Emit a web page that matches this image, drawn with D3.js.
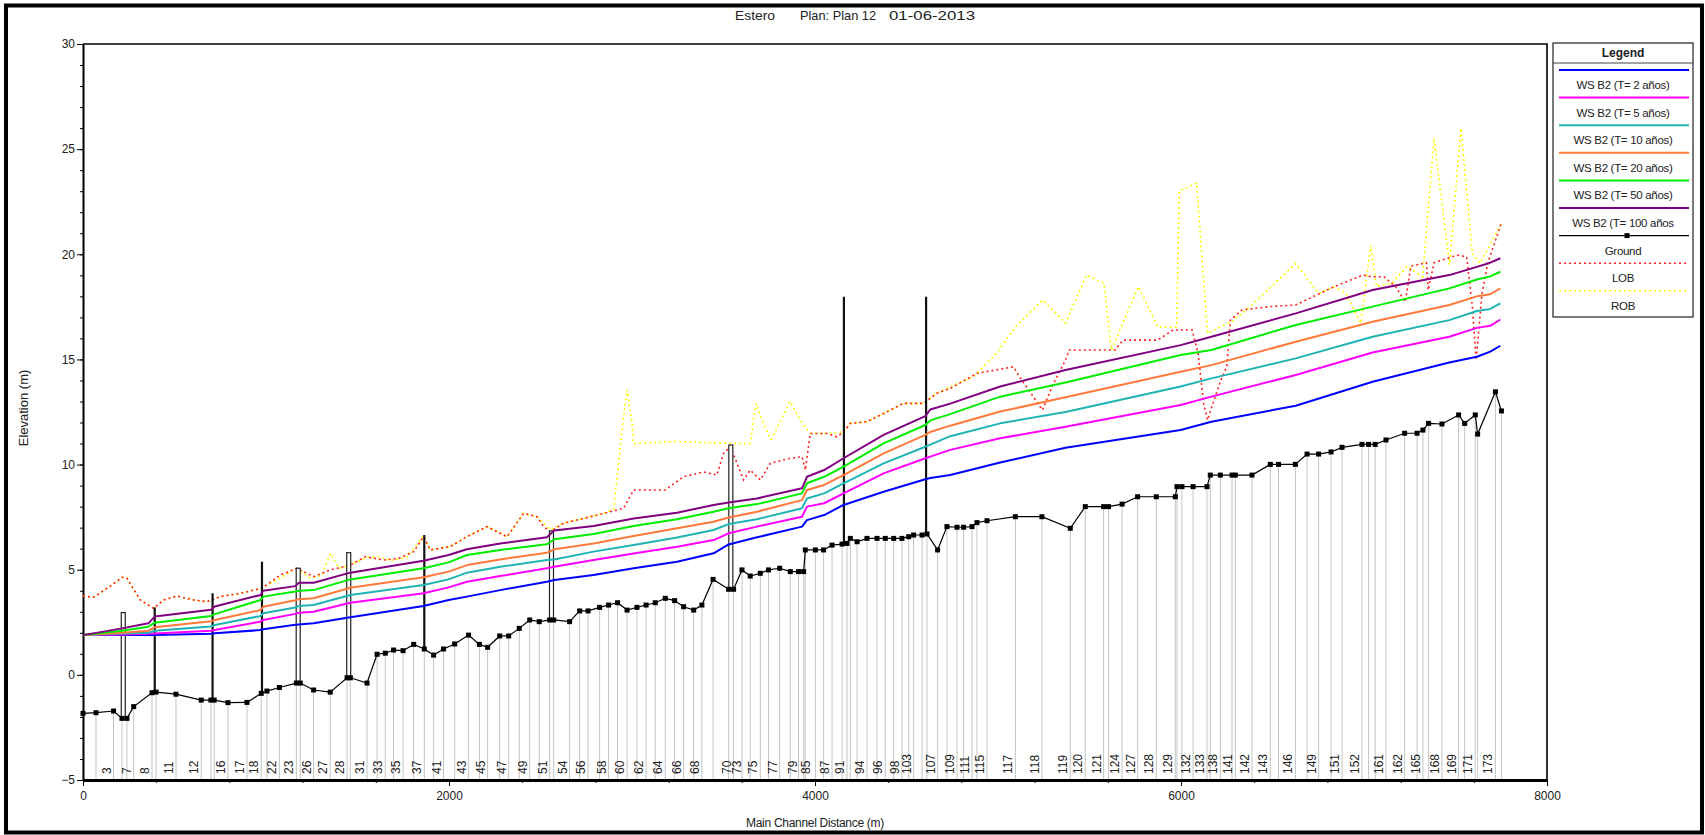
<!DOCTYPE html>
<html>
<head>
<meta charset="utf-8">
<script src="https://cdn.jsdelivr.net/npm/d3@7"></script>
<style>
  body { margin: 0; background: #fff; }
  svg text { font-family: "Liberation Sans", Arial, sans-serif; }
</style>
</head>
<body>
<svg id="chart" width="1705" height="835"></svg>
<script>
// ---- data ----
const seriesNames = ["WS B2 (T= 2 años)", "WS B2 (T= 5 años)", "WS B2 (T= 10 años)", "WS B2 (T= 20 años)",
    "WS B2 (T= 50 años)", "WS B2 (T= 100 años", "Ground", "LOB", "ROB"];

const wsDist = [0, 213, 357, 392, 700, 720, 970, 985, 1160, 1180, 1260, 1461, 1861, 1998, 2098, 2280, 2535, 2575,
    2790, 3009, 3246, 3446, 3528, 3683, 3929, 3956, 4050, 4156, 4375, 4603, 4630, 4739, 5012, 5369, 5998, 6166,
    6627, 7047, 7466, 7617, 7690, 7745];
const ws2 = [1.89, 1.89, 1.89, 1.89, 1.96, 1.98, 2.13, 2.17, 2.38, 2.40, 2.45, 2.74, 3.27, 3.56, 3.72, 4.03, 4.43, 4.51,
    4.75, 5.07, 5.38, 5.78, 6.20, 6.54, 7.05, 7.36, 7.60, 8.08, 8.71, 9.30, 9.36, 9.50, 10.10, 10.80, 11.64, 12.04,
    12.80, 13.94, 14.85, 15.13, 15.37, 15.65];
const ws5 = [1.89, 1.92, 1.95, 1.97, 2.10, 2.13, 2.53, 2.61, 2.90, 2.95, 3.00, 3.43, 3.88, 4.16, 4.43, 4.70, 5.07, 5.14,
    5.46, 5.77, 6.09, 6.41, 6.73, 7.05, 7.52, 8.00, 8.16, 8.63, 9.58, 10.30, 10.38, 10.70, 11.25, 11.80, 12.83, 13.23,
    14.26, 15.33, 16.08, 16.50, 16.60, 16.90];
const ws10 = [1.89, 1.97, 2.00, 2.10, 2.30, 2.37, 2.80, 2.93, 3.20, 3.28, 3.32, 3.80, 4.27, 4.54, 4.86, 5.14, 5.46, 5.49,
    5.86, 6.17, 6.53, 6.89, 7.17, 7.40, 7.92, 8.39, 8.63, 9.11, 10.06, 10.85, 10.95, 11.35, 11.96, 12.50, 13.71, 14.10,
    15.05, 16.08, 16.87, 17.30, 17.40, 17.67];
const ws20 = [1.89, 2.00, 2.10, 2.26, 2.55, 2.61, 3.08, 3.24, 3.55, 3.60, 3.64, 4.14, 4.64, 4.91, 5.22, 5.49, 5.81, 5.97,
    6.25, 6.60, 6.97, 7.28, 7.48, 7.76, 8.31, 8.79, 9.03, 9.50, 10.53, 11.41, 11.55, 11.85, 12.52, 13.20, 14.41, 14.73,
    15.84, 16.79, 17.59, 18.00, 18.10, 18.38];
const ws50 = [1.89, 2.10, 2.29, 2.48, 2.80, 2.89, 3.56, 3.72, 3.96, 4.00, 4.03, 4.54, 5.07, 5.35, 5.70, 5.94, 6.21, 6.45,
    6.70, 7.08, 7.40, 7.76, 7.92, 8.12, 8.63, 9.11, 9.42, 9.90, 11.01, 11.88, 12.10, 12.40, 13.23, 13.90, 15.21, 15.45,
    16.64, 17.51, 18.38, 18.80, 18.95, 19.17];
const ws100 = [1.89, 2.21, 2.45, 2.77, 3.10, 3.25, 3.80, 4.00, 4.22, 4.38, 4.38, 4.86, 5.43, 5.70, 5.97, 6.25, 6.54, 6.86,
    7.08, 7.44, 7.71, 8.08, 8.20, 8.39, 8.87, 9.42, 9.74, 10.30, 11.41, 12.30, 12.62, 12.90, 13.71, 14.50, 15.68, 16.08,
    17.19, 18.30, 19.01, 19.40, 19.60, 19.81];

const groundDist = [0, 71, 167, 213, 240, 277, 377, 399, 508, 646, 699, 717, 792, 896, 974, 1005, 1073, 1166, 1187,
    1260, 1351, 1443, 1461, 1552, 1607, 1652, 1697, 1749, 1807, 1865, 1916, 1970, 2031, 2107, 2166, 2211, 2277, 2326,
    2384, 2441, 2493, 2550, 2572, 2659, 2714, 2760, 2823, 2872, 2921, 2973, 3027, 3077, 3127, 3182, 3233, 3282, 3337,
    3382, 3443, 3528, 3555, 3601, 3646, 3701, 3746, 3807, 3865, 3910, 3938, 3947, 4002, 4047, 4093, 4148, 4175, 4193,
    4230, 4284, 4339, 4384, 4430, 4475, 4512, 4539, 4585, 4612, 4670, 4721, 4776, 4812, 4858, 4885, 4940, 5095, 5240,
    5395, 5477, 5577, 5604, 5678, 5763, 5865, 5969, 5978, 6005, 6066, 6142, 6160, 6215, 6279, 6297, 6388, 6488, 6533,
    6625, 6689, 6752, 6820, 6880, 6989, 7025, 7061, 7120, 7222, 7290, 7322, 7353, 7426, 7517, 7550, 7608, 7621, 7718,
    7751];
const groundElev = [-1.83, -1.80, -1.72, -2.07, -2.07, -1.51, -0.85, -0.82, -0.92, -1.20, -1.20, -1.20, -1.32, -1.31,
    -0.88, -0.77, -0.60, -0.39, -0.39, -0.72, -0.82, -0.14, -0.14, -0.39, 0.98, 1.03, 1.18, 1.15, 1.45, 1.23, 0.94, 1.23,
    1.47, 1.89, 1.45, 1.31, 1.85, 1.85, 2.21, 2.61, 2.53, 2.61, 2.61, 2.53, 3.04, 3.04, 3.21, 3.32, 3.43, 3.08, 3.21,
    3.32, 3.43, 3.64, 3.53, 3.24, 3.08, 3.32, 4.54, 4.07, 4.07, 4.99, 4.70, 4.83, 4.99, 5.07, 4.91, 4.91, 4.91, 5.94,
    5.94, 5.94, 6.17, 6.22, 6.25, 6.49, 6.33, 6.49, 6.49, 6.49, 6.49, 6.49, 6.57, 6.65, 6.65, 6.70, 5.94, 7.05, 7.02,
    7.02, 7.05, 7.24, 7.33, 7.52, 7.52, 6.97, 8.00, 8.00, 8.00, 8.12, 8.47, 8.47, 8.47, 8.95, 8.95, 8.95, 8.95, 9.50,
    9.50, 9.50, 9.50, 9.50, 10.01, 10.01, 10.01, 10.50, 10.50, 10.60, 10.82, 10.96, 10.96, 10.96, 11.17, 11.49, 11.49,
    11.64, 11.96, 11.93, 12.36, 11.96, 12.36, 11.45, 13.46, 12.55];

const lobDist = [0, 58, 149, 213, 240, 313, 386, 440, 514, 604, 678, 750, 860, 978, 1079, 1169, 1260, 1351, 1461, 1543,
    1643, 1725, 1807, 1861, 1898, 2007, 2098, 2208, 2317, 2408, 2481, 2517, 2554, 2626, 2736, 2845, 2954, 3009, 3182,
    3282, 3391, 3464, 3500, 3537, 3574, 3610, 3646, 3701, 3756, 3865, 3929, 3947, 3974, 4066, 4120, 4156, 4193, 4284,
    4375, 4484, 4593, 4666, 4739, 4886, 5085, 5117, 5180, 5243, 5295, 5369, 5390, 5641, 5683, 5872, 5956, 6061, 6093,
    6124, 6145, 6187, 6218, 6250, 6270, 6333, 6480, 6627, 6837, 6994, 7047, 7110, 7173, 7225, 7257, 7341, 7351, 7383,
    7508, 7561, 7592, 7613, 7645, 7676, 7750];
const lobElev = [3.75, 3.69, 4.22, 4.64, 4.60, 3.56, 3.16, 3.56, 3.75, 3.56, 3.48, 3.72, 3.88, 4.12, 4.75, 5.07, 4.67,
    4.99, 5.22, 5.62, 5.46, 5.54, 5.86, 6.57, 5.94, 6.10, 6.57, 7.05, 6.57, 7.68, 7.52, 7.05, 6.81, 7.21, 7.44, 7.68,
    7.92, 8.79, 8.79, 9.42, 9.65, 9.50, 10.53, 10.85, 10.06, 9.27, 9.74, 9.27, 10.06, 10.30, 10.37, 9.74, 11.48, 11.48,
    11.32, 11.55, 11.96, 12.04, 12.43, 12.91, 12.91, 13.39, 13.62, 14.34, 14.65, 14.18, 13.39, 12.59, 13.70, 14.97,
    15.45, 15.45, 15.92, 15.92, 16.40, 16.40, 15.29, 12.91, 12.12, 13.23, 14.02, 14.65, 16.87, 17.35, 17.51, 17.59,
    18.46, 19.01, 18.93, 18.93, 18.46, 17.74, 19.44, 19.60, 18.30, 19.60, 19.96, 19.88, 17.51, 14.97, 18.14, 19.57,
    21.47];

const robDist = [0, 58, 149, 213, 240, 313, 386, 440, 514, 604, 678, 750, 860, 978, 1060, 1151, 1187, 1242, 1306, 1351,
    1400, 1461, 1552, 1625, 1679, 1770, 1861, 1898, 2007, 2098, 2208, 2317, 2408, 2481, 2554, 2626, 2736, 2845, 2900,
    2945, 2973, 3000, 3009, 3250, 3550, 3646, 3678, 3720, 3760, 3865, 3920, 3974, 4066, 4156, 4193, 4284, 4375, 4484,
    4593, 4666, 4739, 4865, 4991, 5096, 5243, 5369, 5484, 5579, 5620, 5767, 5872, 5977, 5990, 6085, 6145, 6291, 6417,
    6627, 6753, 6837, 6900, 6983, 7036, 7068, 7153, 7236, 7320, 7383, 7467, 7530, 7592, 7635, 7750];
const robElev = [3.75, 3.69, 4.22, 4.64, 4.60, 3.56, 3.16, 3.56, 3.75, 3.56, 3.48, 3.72, 3.88, 4.12, 4.51, 4.99, 4.95,
    4.59, 4.75, 5.78, 5.07, 5.22, 5.59, 5.62, 5.43, 5.59, 6.60, 5.94, 6.10, 6.57, 7.05, 6.57, 7.68, 7.52, 6.90, 7.21,
    7.44, 7.68, 7.90, 11.60, 13.55, 12.00, 11.00, 11.10, 11.00, 11.00, 12.90, 11.90, 11.20, 13.00, 12.10, 11.48, 11.48,
    11.55, 11.96, 12.04, 12.43, 12.91, 12.91, 13.39, 13.70, 14.18, 15.29, 16.55, 17.83, 16.72, 19.01, 18.62, 15.45,
    18.46, 16.55, 16.55, 23.00, 23.40, 16.24, 16.87, 17.83, 19.57, 18.14, 18.46, 18.14, 16.72, 20.43, 18.46, 18.62,
    19.44, 18.93, 25.50, 19.50, 26.00, 20.04, 19.57, 21.47];

// bridges / culverts: station, deck top, invert
const bridgeDist = [220, 392, 708, 978, 1176, 1452, 1865, 2560, 3540, 4158, 4607];
const bridgeTop = [2.96, 3.21, 3.88, 5.38, 5.07, 5.81, 6.65, 6.85, 10.93, 17.98, 17.98];
const bridgeLow = [-2.07, -0.82, -1.20, -0.88, -0.39, -0.14, 1.23, 2.61, 4.07, 6.25, 6.70];
const bridgeKind = ["open", "solid", "solid", "solid", "open", "open", "solid", "open", "open", "solid", "solid"];

// river station labels along the bottom
const stationLabels = ["3", "7", "8", "11", "12", "16", "17", "18", "22", "23", "26", "27", "28", "31", "33", "35", "37",
    "41", "43", "45", "47", "49", "51", "54", "56", "58", "60", "62", "64", "66", "68", "70", "73", "75", "77", "79",
    "85", "87", "91", "94", "96", "98", "103", "107", "109", "111", "115", "117", "118", "119", "120", "121", "124",
    "127", "128", "129", "132", "133", "138", "141", "142", "143", "146", "149", "151", "152", "161", "162", "165",
    "168", "169", "171", "173"];
const stationDist = [167, 277, 377, 508, 646, 792, 896, 974, 1073, 1166, 1260, 1351, 1443, 1552, 1652, 1749, 1865,
    1970, 2107, 2211, 2326, 2441, 2550, 2659, 2760, 2872, 2973, 3077, 3182, 3282, 3382, 3555, 3610, 3701, 3807, 3920,
    3990, 4093, 4175, 4284, 4384, 4475, 4539, 4670, 4776, 4858, 4940, 5095, 5240, 5395, 5477, 5577, 5678, 5763, 5865,
    5969, 6066, 6142, 6215, 6297, 6388, 6488, 6625, 6752, 6880, 6989, 7120, 7222, 7322, 7426, 7517, 7608, 7718];

const xTicks = [0, 2000, 4000, 6000, 8000];
const yTicks = [-5, 0, 5, 10, 15, 20, 25, 30];

// ---- drawing ----
const svg = d3.select("#chart");
const colors = ["#0000ff", "#ff00ff", "#1fb4b4", "#ff7a3a", "#00ee00", "#800080", "#000000", "#ff2020", "#ffff00"];

const x = d3.scaleLinear().domain([0, 8000]).range([83, 1547]);
const y = d3.scaleLinear().domain([-5, 30]).range([780, 44]);

// outer frame
svg.append("rect").attr("x", 6).attr("y", 5.5).attr("width", 1696).attr("height", 827)
    .attr("fill", "#fff").attr("stroke", "#000").attr("stroke-width", 4);

// title
const titleParts = [["Estero", 735, 40], ["Plan: Plan 12", 800, 76], ["01-06-2013", 889, 86]];
svg.selectAll(".title").data(titleParts).enter().append("text")
    .attr("class", "title")
    .attr("x", d => d[1]).attr("y", 20)
    .attr("textLength", d => d[2]).attr("lengthAdjust", "spacingAndGlyphs")
    .style("font-size", "13px").style("fill", "#222")
    .text(d => d[0]);

// gray section lines from ground to the bottom axis
const groundPts = d3.zip(groundDist, groundElev);
svg.append("g").selectAll("line").data(groundPts).enter().append("line")
    .attr("x1", d => x(d[0])).attr("x2", d => x(d[0]))
    .attr("y1", d => y(d[1])).attr("y2", y(-5))
    .attr("stroke", "#c4c4c4").attr("stroke-width", 1);

// station labels, rotated
svg.append("g").selectAll("text").data(d3.zip(stationLabels, stationDist)).enter().append("text")
    .attr("transform", d => `translate(${x(d[1]) - 3}, 774) rotate(-90)`)
    .style("font-size", "12px").style("fill", "#222")
    .text(d => d[0]);

// axes
const yMinor = d3.axisLeft(y).tickValues(d3.range(-5, 31, 1)).tickSize(3).tickFormat("");
const yMajor = d3.axisLeft(y).tickValues(yTicks).tickSize(6).tickPadding(2).tickSizeOuter(0);
svg.append("g").attr("transform", "translate(83,0)").call(yMinor).select(".domain").remove();
const gy = svg.append("g").attr("transform", "translate(83,0)").call(yMajor);
gy.select(".domain").attr("stroke-width", 2);
gy.selectAll("text").style("font-size", "12px").style("fill", "#222");

const xMinor = d3.axisBottom(x).tickValues(d3.range(0, 8001, 400)).tickSize(3).tickFormat("");
const xMajor = d3.axisBottom(x).tickValues(xTicks).tickSize(6).tickPadding(5).tickSizeOuter(0)
    .tickFormat(d3.format("d"));
svg.append("g").attr("transform", "translate(0,780)").call(xMinor).select(".domain").remove();
const gx = svg.append("g").attr("transform", "translate(0,780)").call(xMajor);
gx.select(".domain").attr("stroke-width", 3);
gx.selectAll("text").style("font-size", "12px").style("fill", "#222");

// top and right border of the plot
svg.append("path").attr("d", `M${x(0)},${y(30)}H${x(8000)}V${y(-5)}`)
    .attr("fill", "none").attr("stroke", "#000").attr("stroke-width", 1.6);

// axis titles
svg.append("text").attr("x", 815).attr("y", 827).attr("text-anchor", "middle")
    .style("font-size", "12px").style("fill", "#222").style("letter-spacing", "-0.3px")
    .text("Main Channel Distance (m)");
svg.append("text").attr("transform", "translate(28,408) rotate(-90)").attr("text-anchor", "middle")
    .style("font-size", "13px").style("fill", "#222")
    .text("Elevation (m)");

const line = d3.line().x(d => x(d[0])).y(d => y(d[1]));

// bank stations
svg.append("path").datum(d3.zip(robDist, robElev)).attr("d", line)
    .attr("fill", "none").attr("stroke", colors[8]).attr("stroke-width", 1.6).attr("stroke-dasharray", "2,3");
svg.append("path").datum(d3.zip(lobDist, lobElev)).attr("d", line)
    .attr("fill", "none").attr("stroke", colors[7]).attr("stroke-width", 1.6).attr("stroke-dasharray", "2,3");

// bridges
const bridges = bridgeDist.map((d, i) => ({ d, top: bridgeTop[i], low: bridgeLow[i], kind: bridgeKind[i] }));
svg.append("g").selectAll("rect").data(bridges.filter(b => b.kind === "open")).enter().append("rect")
    .attr("x", b => x(b.d) - 2).attr("width", 4)
    .attr("y", b => y(b.top)).attr("height", b => y(b.low) - y(b.top))
    .attr("fill", "#fff").attr("stroke", "#222").attr("stroke-width", 1.2);
svg.append("g").selectAll("line").data(bridges.filter(b => b.kind === "solid")).enter().append("line")
    .attr("x1", b => x(b.d)).attr("x2", b => x(b.d))
    .attr("y1", b => y(b.top)).attr("y2", b => y(b.low))
    .attr("stroke", "#111").attr("stroke-width", 2.2);

// water surfaces
const wsSeries = [ws2, ws5, ws10, ws20, ws50, ws100];
wsSeries.forEach((s, i) => {
    svg.append("path").datum(d3.zip(wsDist, s)).attr("d", line)
        .attr("fill", "none").attr("stroke", colors[i]).attr("stroke-width", 2)
        .attr("stroke-linejoin", "round");
});

// ground
svg.append("path").datum(groundPts).attr("d", line)
    .attr("fill", "none").attr("stroke", "#000").attr("stroke-width", 1.2);
svg.append("g").selectAll("rect").data(groundPts).enter().append("rect")
    .attr("x", d => x(d[0]) - 2.5).attr("y", d => y(d[1]) - 2.5)
    .attr("width", 5).attr("height", 5).attr("fill", "#000");

// legend
const lg = svg.append("g");
lg.append("rect").attr("x", 1553).attr("y", 43).attr("width", 140).attr("height", 274)
    .attr("fill", "#fff").attr("stroke", "#222").attr("stroke-width", 1.2);
lg.append("text").attr("x", 1623).attr("y", 57).attr("text-anchor", "middle")
    .style("font-size", "12px").style("font-weight", "bold").style("fill", "#222").text("Legend");
lg.append("line").attr("x1", 1553).attr("x2", 1693).attr("y1", 63).attr("y2", 63)
    .attr("stroke", "#444").attr("stroke-width", 1);

const items = lg.selectAll(".item").data(seriesNames).enter().append("g")
    .attr("class", "item")
    .attr("transform", (d, i) => `translate(0, ${70 + i * 27.6})`);
items.append("line").attr("x1", 1559).attr("x2", 1689).attr("y1", 0).attr("y2", 0)
    .attr("stroke", (d, i) => colors[i])
    .attr("stroke-width", (d, i) => i < 6 ? 2 : 1.4)
    .attr("stroke-dasharray", (d, i) => i > 6 ? "2,3" : null);
items.filter((d, i) => i === 6).append("rect")
    .attr("x", 1624.5).attr("y", -2.5).attr("width", 5).attr("height", 5).attr("fill", "#000");
items.append("text").attr("x", 1623).attr("y", 19).attr("text-anchor", "middle")
    .style("font-size", "11.5px").style("fill", "#222").style("letter-spacing", "-0.3px")
    .text(d => d);
</script>
</body>
</html>
